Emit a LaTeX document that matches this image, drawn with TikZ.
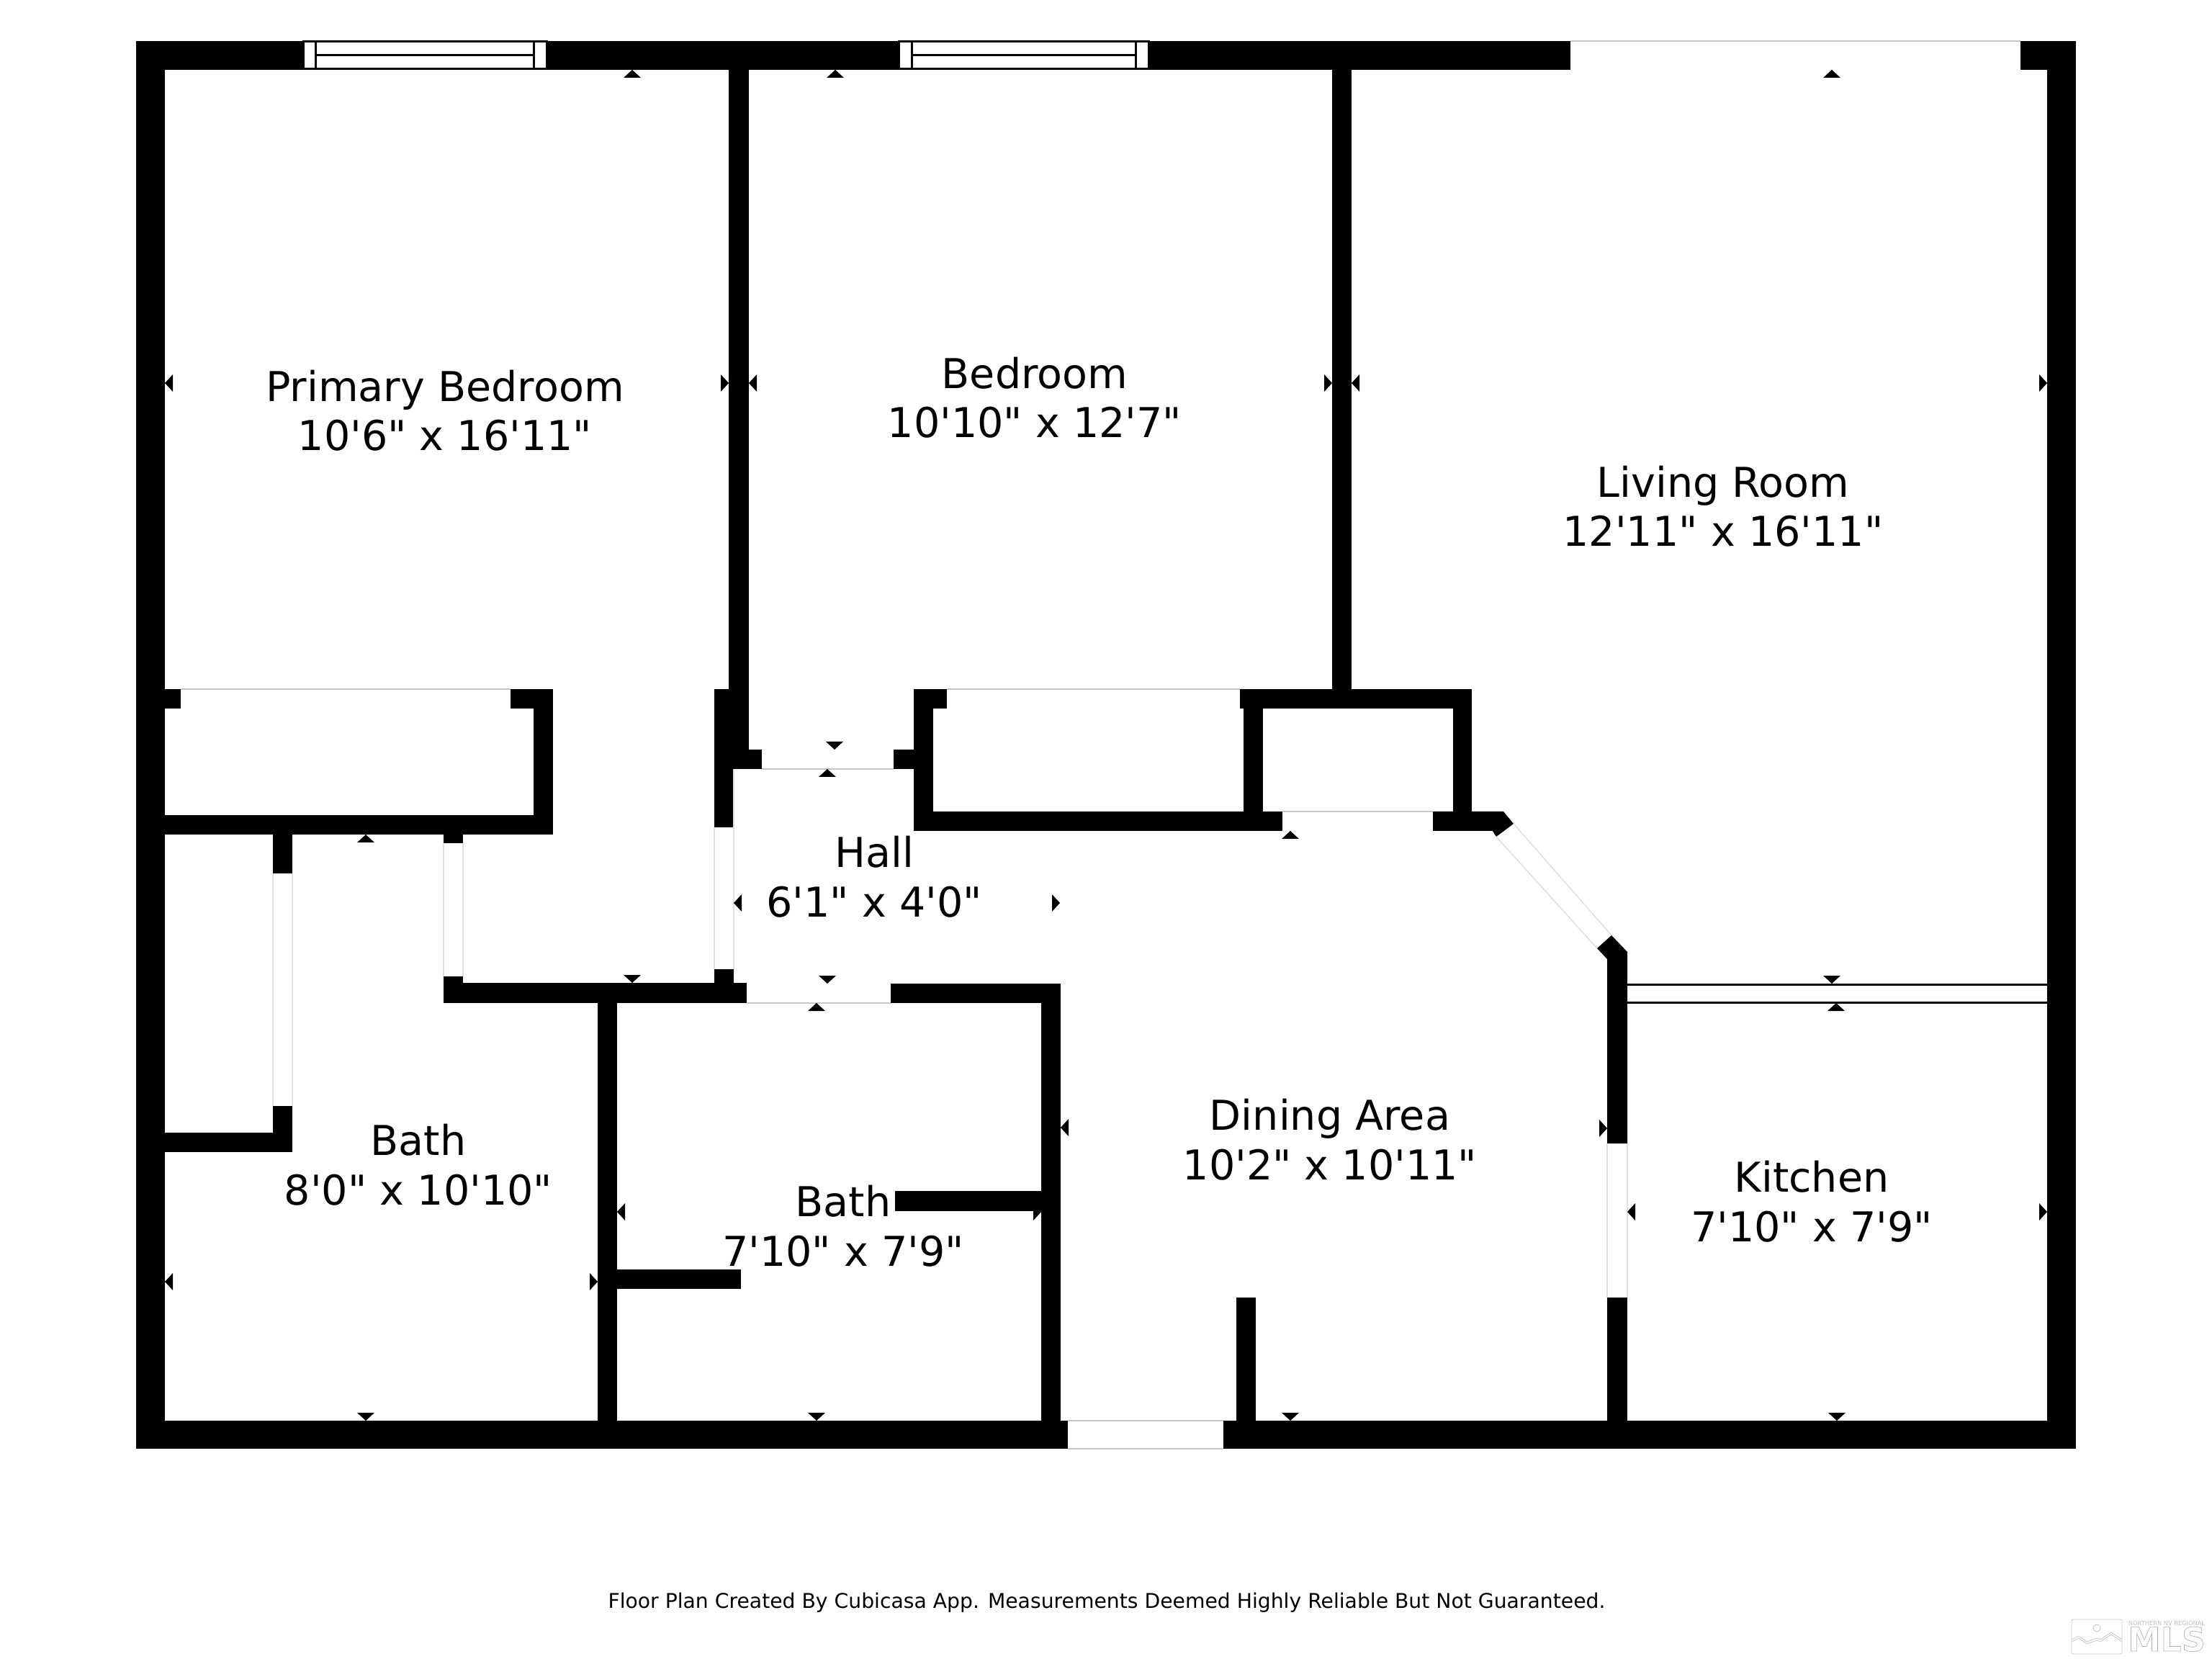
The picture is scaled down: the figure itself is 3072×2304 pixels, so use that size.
\documentclass[tikz,border=0pt]{standalone}
\usepackage{fontspec}
\setmainfont{DejaVu Sans}[Ligatures=TeXOff]
\newcommand\outlined[1]{\special{pdf:literal 1 Tr 0.2 w}#1\special{pdf:literal 0 Tr}}
\begin{document}
\begin{tikzpicture}[x=.01cm,y=-.01cm,
  wall/.style={fill=black},
  opening/.style={draw=black!22,line width=.02cm},
  faintopening/.style={draw=black!12,line width=.015cm},
  windowbox/.style={draw=black,fill=white,line width=.03cm},
  tipup/.style={insert path={-- ++(12,11) -- ++(-24,0) -- cycle}},
  tipdown/.style={insert path={-- ++(12,-11) -- ++(-24,0) -- cycle}},
  tipleft/.style={insert path={-- ++(11,12) -- ++(0,-24) -- cycle}},
  tipright/.style={insert path={-- ++(-11,12) -- ++(0,-24) -- cycle}},
  roomlabel/.style={inner sep=0pt,align=center,anchor=base,font=\fontsize{16.25}{19.35}\selectfont},
  logoline/.style={draw=black!22,line width=.008cm}]
\useasboundingbox (0,0) rectangle (3072,2304);
% outer walls
\fill[wall] (189,57) rectangle (2181,97);
\fill[wall] (2806,57) rectangle (2883,97);
\fill[wall] (189,57) rectangle (229,2012);
\fill[wall] (2843,57) rectangle (2883,2012);
\fill[wall] (189,1973) rectangle (1483,2012);
\fill[wall] (1699,1973) rectangle (2883,2012);
% bedrooms and closets
\fill[wall] (1012,97) rectangle (1040,1068);
\fill[wall] (1850,97) rectangle (1877,957);
\fill[wall] (229,957) rectangle (251,984);
\fill[wall] (709,957) rectangle (768,984);
\fill[wall] (741,957) rectangle (768,1159);
\fill[wall] (229,1132) rectangle (768,1159);
\fill[wall] (379,1159) rectangle (406,1213);
\fill[wall] (379,1536) rectangle (406,1600);
\fill[wall] (229,1573) rectangle (406,1600);
\fill[wall] (616,1159) rectangle (643,1171);
\fill[wall] (616,1356) rectangle (643,1393);
\fill[wall] (616,1365) rectangle (1037,1393);
% hall
\fill[wall] (992,957) rectangle (1019,1149);
\fill[wall] (1019,1041) rectangle (1058,1068);
\fill[wall] (992,1346) rectangle (1019,1393);
\fill[wall] (1241,1041) rectangle (1296,1068);
\fill[wall] (1269,957) rectangle (1296,1154);
\fill[wall] (1269,957) rectangle (1315,984);
\fill[wall] (1722,957) rectangle (2044,984);
\fill[wall] (1727,984) rectangle (1754,1154);
\fill[wall] (1269,1127) rectangle (1781,1154);
\fill[wall] (2018,957) rectangle (2044,1154);
\fill[wall] (1237,1366) rectangle (1473,1393);
% angled corner
\fill[wall] (1990,1127) -- (2088,1127) -- (2102,1144) -- (2078,1162) -- (2073,1154) -- (1990,1154) -- cycle;
\fill[wall] (2238,1299) -- (2260,1322) -- (2260,1588) -- (2232,1588) -- (2232,1332) -- (2218,1317) -- cycle;
% baths and dining
\fill (1446,1683) [tipright];
\fill[wall] (830,1393) rectangle (857,2012);
\fill[wall] (1446,1366) rectangle (1473,2012);
\fill[wall] (857,1763) rectangle (1029,1790);
\fill[wall] (1243,1654) rectangle (1446,1682);
\fill[wall] (1717,1802) rectangle (1744,1973);
\fill[wall] (2232,1802) rectangle (2260,1973);
% door openings
\draw[opening] (2181,57) -- (2806,57);
\draw[opening] (1483,1973) -- (1699,1973);
\draw[opening] (1483,2012) -- (1699,2012);
\draw[opening] (251,957) -- (709,957);
\draw[opening] (1315,957) -- (1722,957);
\draw[opening] (1058,1068) -- (1241,1068);
\draw[opening] (1037,1393) -- (1237,1393);
\draw[opening] (1781,1127) -- (1990,1127);
\draw[faintopening] (992,1149) -- (992,1346);
\draw[faintopening] (1019,1068) -- (1019,1346);
\draw[faintopening] (616,1171) -- (616,1356);
\draw[faintopening] (643,1171) -- (643,1356);
\draw[faintopening] (379,1213) -- (379,1536);
\draw[faintopening] (406,1213) -- (406,1536);
\draw[faintopening] (2232,1588) -- (2232,1802);
\draw[faintopening] (2260,1588) -- (2260,1802);
\draw[faintopening] (2102,1144) -- (2238,1299);
\draw[faintopening] (2078,1162) -- (2218,1317);
% windows
\draw[windowbox] (421,58) rectangle (759,96);
\draw[windowbox] (438,58) rectangle (741,77);
\draw[windowbox] (438,77) rectangle (741,96);
\draw[windowbox] (1248,58) rectangle (1595,96);
\draw[windowbox] (1266,58) rectangle (1577,77);
\draw[windowbox] (1266,77) rectangle (1577,96);
% pass-through
\draw[black,line width=.03cm] (2260,1367) -- (2843,1367);
\draw[black,line width=.03cm] (2260,1392) -- (2843,1392);
% measure marks
\fill (878,97) [tipup];
\fill (1160,97) [tipup];
\fill (2544,97) [tipup];
\fill (508,1159) [tipup];
\fill (1149,1068) [tipup];
\fill (1792,1154) [tipup];
\fill (1134,1393) [tipup];
\fill (2550,1393) [tipup];
\fill (878,1365) [tipdown];
\fill (1159,1041) [tipdown];
\fill (1149,1366) [tipdown];
\fill (2544,1366) [tipdown];
\fill (508,1973) [tipdown];
\fill (1134,1973) [tipdown];
\fill (1792,1973) [tipdown];
\fill (2551,1973) [tipdown];
\fill (229,532) [tipleft];
\fill (1040,532) [tipleft];
\fill (1877,532) [tipleft];
\fill (1019,1254) [tipleft];
\fill (229,1780) [tipleft];
\fill (857,1683) [tipleft];
\fill (1473,1566) [tipleft];
\fill (2260,1683) [tipleft];
\fill (1012,532) [tipright];
\fill (1850,532) [tipright];
\fill (2843,532) [tipright];
\fill (1472,1254) [tipright];
\fill (830,1780) [tipright];
\fill (2232,1567) [tipright];
\fill (2843,1683) [tipright];
% room labels
\node[roomlabel] (primary) at (618,626){Primary Bedroom\\10'6" x 16'11"};
\node[roomlabel] (bedroom) at (1437,608){Bedroom\\10'10" x 12'7"};
\node[roomlabel] (living) at (2393,759){Living Room\\12'11" x 16'11"};
\node[roomlabel] (hall) at (1214,1273){Hall\\6'1" x 4'0"};
\node[roomlabel] (dining) at (1847,1638){Dining Area\\10'2" x 10'11"};
\node[roomlabel] (kitchen) at (2516,1724){Kitchen\\7'10" x 7'9"};
\node[roomlabel] (bathone) at (581,1673){Bath\\8'0" x 10'10"};
\node[roomlabel] (bathtwo) at (1171,1758){Bath\\7'10" x 7'9"};
\node[inner sep=0pt,anchor=base,font=\fontsize{8.03}{9.5}\selectfont] (note) at (1537,2233){Floor Plan Created By Cubicasa App. Measurements Deemed Highly Reliable But Not Guaranteed.};
% logo
\draw[logoline,rounded corners=.02cm] (2877,2249) rectangle (2947,2297);
\draw[logoline] (2912,2261) circle (5);
\draw[logoline] (2877,2277) -- (2887,2272) -- (2898,2280) -- (2912,2275) -- (2917,2277) -- (2932,2267) -- (2947,2277);
\draw[logoline] (2877,2280) -- (2887,2275) -- (2898,2283) -- (2912,2278) -- (2917,2280) -- (2932,2270) -- (2947,2280);
\node[inner sep=0pt,anchor=base,text=black!25,font=\fontsize{2.35}{3}\selectfont] (logotop) at (3009,2257){NORTHERN NV REGIONAL};
\node[inner sep=0pt,anchor=base,text=black!30,font=\bfseries\fontsize{13}{15}\selectfont] (logomls) at (3009,2293){\outlined{MLS}};
\end{tikzpicture}
\end{document}
